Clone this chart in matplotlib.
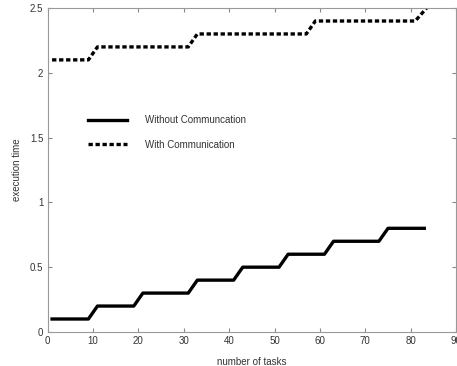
import matplotlib.pyplot as plt

plt.rcParams['font.family'] = ['Liberation Sans', 'DejaVu Sans']

# step curves
x_without = [1, 9, 11, 19, 21, 31, 33, 41, 43, 51, 53, 61, 63, 73, 75, 83]
y_without = [0.1, 0.1, 0.2, 0.2, 0.3, 0.3, 0.4, 0.4, 0.5, 0.5, 0.6, 0.6, 0.7, 0.7, 0.8, 0.8]

x_with = [1, 9, 11, 31, 33, 57, 59, 81, 83.5]
y_with = [2.1, 2.1, 2.2, 2.2, 2.3, 2.3, 2.4, 2.4, 2.5]

fig = plt.figure(figsize=(4.57, 3.66), dpi=100)
ax = fig.add_axes([0.104, 0.093, 0.894, 0.885])

ax.plot(x_without, y_without, color='black', lw=2.4, label='Without Communcation')
ax.plot(x_with, y_with, color='black', lw=2.4, linestyle=(0, (1.3, 0.8)),
        label='With Communication')

ax.set_xlim(0, 90)
ax.set_ylim(0, 2.5)
ax.set_xticks(range(0, 91, 10))
ax.set_yticks([0, 0.5, 1, 1.5, 2, 2.5])
ax.set_yticklabels(['0', '0.5', '1', '1.5', '2', '2.5'])
ax.tick_params(direction='in', top=True, right=True, labelsize=7, length=3,
               color='#888888', labelcolor='#333333', pad=3)
for s in ax.spines.values():
    s.set_color('#999999')
    s.set_linewidth(0.8)

ax.set_xlabel('number of tasks', fontsize=7, color='#333333', labelpad=8)
ax.set_ylabel('execution time', fontsize=7, color='#333333', labelpad=6)

ax.legend(loc='upper left', bbox_to_anchor=(0.088, 0.685), frameon=False,
          fontsize=7, handlelength=4.0, handletextpad=1.8, labelspacing=1.5,
          borderpad=0, labelcolor='#333333')

fig.savefig('out.png', dpi=100)
